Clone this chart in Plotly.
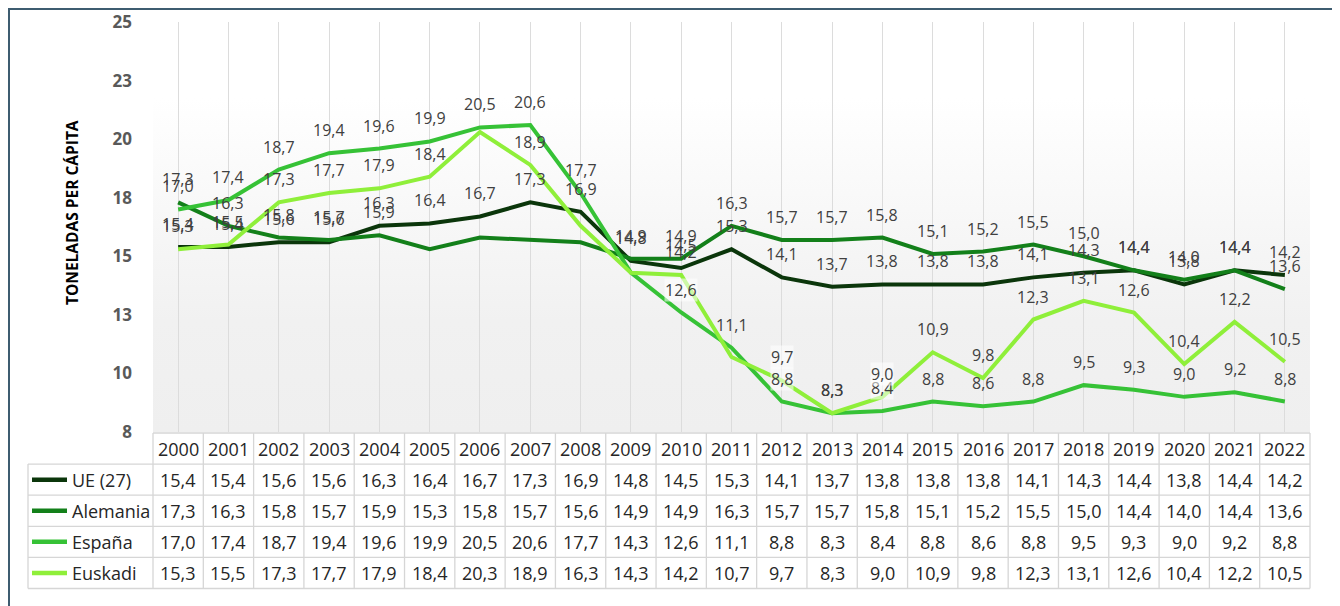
import base64
import plotly.graph_objects as go

# ---------------- data ----------------
years = list(range(2000, 2023))
ue = [15.4, 15.4, 15.6, 15.6, 16.3, 16.4, 16.7, 17.3, 16.9, 14.8, 14.5, 15.3, 14.1,
      13.7, 13.8, 13.8, 13.8, 14.1, 14.3, 14.4, 13.8, 14.4, 14.2]
alemania = [17.3, 16.3, 15.8, 15.7, 15.9, 15.3, 15.8, 15.7, 15.6, 14.9, 14.9, 16.3, 15.7,
            15.7, 15.8, 15.1, 15.2, 15.5, 15.0, 14.4, 14.0, 14.4, 13.6]
espana = [17.0, 17.4, 18.7, 19.4, 19.6, 19.9, 20.5, 20.6, 17.7, 14.3, 12.6, 11.1, 8.8,
          8.3, 8.4, 8.8, 8.6, 8.8, 9.5, 9.3, 9.0, 9.2, 8.8]
euskadi = [15.3, 15.5, 17.3, 17.7, 17.9, 18.4, 20.3, 18.9, 16.3, 14.3, 14.2, 10.7, 9.7,
           8.3, 9.0, 10.9, 9.8, 12.3, 13.1, 12.6, 10.4, 12.2, 10.5]
series_names = ["UE (27)", "Alemania", "España", "Euskadi"]
series_values = [ue, alemania, espana, euskadi]
y_tickvals = [7.5, 10, 12.5, 15, 17.5, 20, 22.5, 25]
y_ticktext = ["8", "10", "13", "15", "18", "20", "23", "25"]
y_title = "TONELADAS PER CÁPITA"

# labels not displayed in the original chart
hidden_labels = {
    "UE (27)": set(),
    "Alemania": {2005, 2006, 2007, 2008},
    "España": {2009},
    "Euskadi": {2006, 2008, 2009, 2011},
}
boxed_labels = {("España", 2010), ("España", 2012), ("Euskadi", 2012),
                ("España", 2014), ("Euskadi", 2014)}

# ---------------- style ----------------
colors = ["#0b360b", "#13801a", "#36c236", "#8fef3a"]
FONT = "Open Sans"
OFF = 8                      # page body margin
W, H = 1340 - OFF, 606 - OFF
L, R, T, B = 153 - OFF, 1310 - OFF, 22 - OFF, 432 - OFF


def px(p):
    """page pixel x -> paper fraction"""
    return (p - OFF - L) / (R - L)


def py(p):
    """page pixel y -> paper fraction"""
    return (B - (p - OFF)) / (B - T)


fig = go.Figure()
for name, vals, col in zip(series_names, series_values, colors):
    fig.add_trace(go.Scatter(x=years, y=vals, mode="lines", name=name,
                             line=dict(color=col, width=4), hoverinfo="skip",
                             showlegend=False))

annotations = []
# data labels
for name, vals in zip(series_names, series_values):
    for yr, v in zip(years, vals):
        if yr in hidden_labels[name]:
            continue
        a = dict(x=yr, y=v, xref="x", yref="y", showarrow=False, yshift=23,
                 xanchor="center", yanchor="middle",
                 text=f"{v:.1f}".replace(".", ","),
                 font=dict(family=FONT, size=16, color="#404040"))
        if (name, yr) in boxed_labels:
            a["bgcolor"] = "rgba(255,255,255,0.55)"
            a["borderpad"] = 0
        annotations.append(a)

# y-axis title
annotations.append(dict(x=px(72), y=py(213), xref="paper", yref="paper", showarrow=False,
                        xanchor="center", yanchor="middle",
                        text=f"<b>{y_title}</b>", textangle=-90,
                        font=dict(family=FONT, size=15.5, color="#000000")))

# ---------------- data table ----------------
n = len(years)
colw = (R - L) / n
header_top = 433
row_h = 31.1
label_left = 28
grid_col = "#d6d6d6"
shapes = []


def hline(x0, x1, yp):
    shapes.append(dict(type="line", xref="paper", yref="paper", x0=px(x0), x1=px(x1),
                       y0=py(yp), y1=py(yp), line=dict(color=grid_col, width=1.3)))


def vline(xp, y0, y1):
    shapes.append(dict(type="line", xref="paper", yref="paper", x0=px(xp), x1=px(xp),
                       y0=py(y0), y1=py(y1), line=dict(color=grid_col, width=1.3)))


hline(153, 1310, header_top)
for k in range(1, 6):
    hline(label_left, 1310, header_top + k * row_h)
vline(label_left, header_top + row_h, header_top + 5 * row_h)
for k in range(n + 1):
    vline(153 + k * colw, header_top, header_top + 5 * row_h)

# header years
for i, yr in enumerate(years):
    annotations.append(dict(x=(i + 0.5) / n, y=py(header_top + row_h / 2), xref="paper",
                            yref="paper", showarrow=False, text=str(yr),
                            xanchor="center", yanchor="middle",
                            font=dict(family=FONT, size=18, color="#262626")))
# rows
for r, (name, vals, col) in enumerate(zip(series_names, series_values, colors)):
    cy = header_top + (r + 1.5) * row_h
    shapes.append(dict(type="line", xref="paper", yref="paper", x0=px(32), x1=px(67),
                       y0=py(cy), y1=py(cy), line=dict(color=col, width=4.5)))
    annotations.append(dict(x=px(70), y=py(cy), xref="paper", yref="paper",
                            xanchor="left", yanchor="middle", showarrow=False, text=name,
                            font=dict(family=FONT, size=18, color="#262626")))
    for i, v in enumerate(vals):
        annotations.append(dict(x=(i + 0.5) / n, y=py(cy), xref="paper", yref="paper",
                                xanchor="center", yanchor="middle",
                                showarrow=False, text=f"{v:.1f}".replace(".", ","),
                                font=dict(family=FONT, size=18, color="#262626")))

# outer frame
shapes.append(dict(type="rect", xref="paper", yref="paper", x0=px(9), x1=px(1336),
                   y0=py(9), y1=py(640), line=dict(color="#3e5c70", width=2),
                   fillcolor="rgba(0,0,0,0)"))

# gradient plot background
svg = ("<svg xmlns='http://www.w3.org/2000/svg' width='100' height='100' "
       "preserveAspectRatio='none'><defs><linearGradient id='g' x1='0' y1='0' x2='0' y2='1'>"
       "<stop offset='0' stop-color='#ffffff'/><stop offset='0.1' stop-color='#ffffff'/>"
       "<stop offset='0.7' stop-color='#f1f1f1'/><stop offset='1' stop-color='#efefef'/>"
       "</linearGradient></defs><rect width='100' height='100' fill='url(#g)'/></svg>")
src = "data:image/svg+xml;base64," + base64.b64encode(svg.encode()).decode()

fig.update_layout(
    width=W, height=H, autosize=False,
    margin=dict(l=L, r=W - R, t=T, b=H - B, pad=0),
    paper_bgcolor="white", plot_bgcolor="rgba(0,0,0,0)",
    font=dict(family=FONT),
    xaxis=dict(range=[years[0] - 0.5, years[-1] + 0.5], tickvals=years,
               showticklabels=False, showgrid=True, gridcolor="#dcdcdc", gridwidth=1.2,
               zeroline=False, showline=False, ticks="", fixedrange=True,
               automargin=False),
    yaxis=dict(range=[7.5, 25], tickvals=y_tickvals, ticktext=y_ticktext,
               showgrid=False, zeroline=False, showline=False, ticks="",
               ticklabelstandoff=20, automargin=False,
               tickfont=dict(family=FONT, size=17, color="#595959", weight="bold"),
               fixedrange=True),
    images=[dict(source=src, xref="paper", yref="paper", x=0, y=py(60), sizex=1,
                 sizey=py(60), sizing="stretch", xanchor="left", yanchor="top",
                 layer="below")],
    shapes=shapes,
    annotations=annotations,
)

fig.write_html("out.html")
